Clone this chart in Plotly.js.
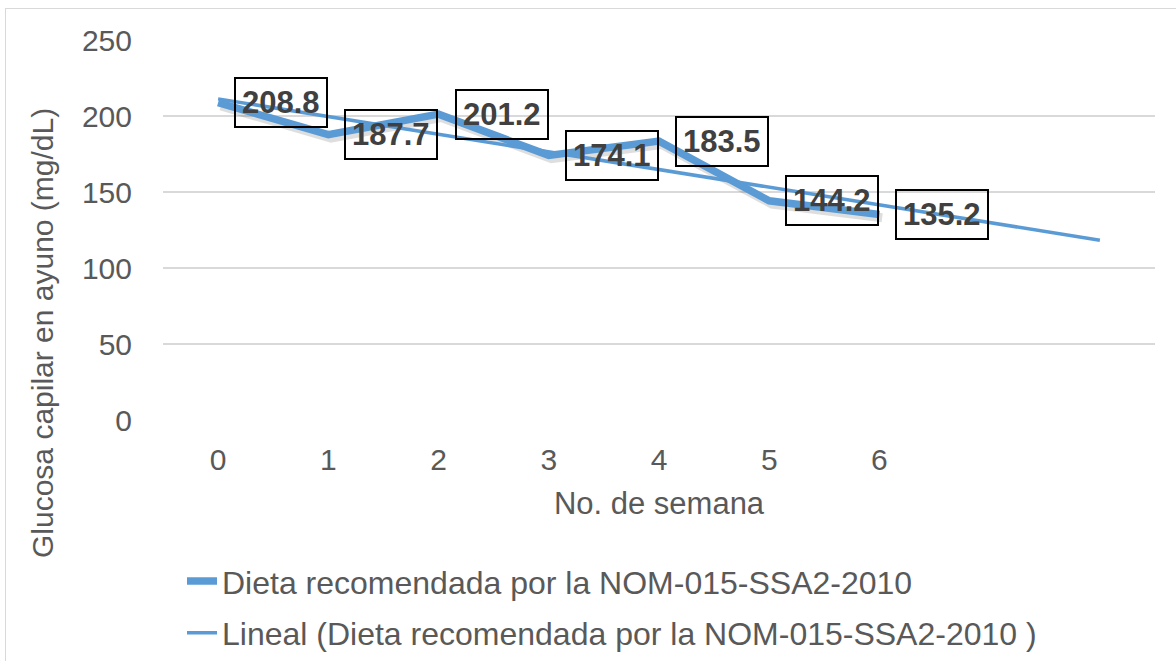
<!DOCTYPE html>
<html>
<head>
<meta charset="utf-8">
<script src="https://cdn.plot.ly/plotly-3.0.1.min.js"></script>
<style>
  html, body { margin: 0; padding: 0; background: #fff; }
  #wrap { position: relative; width: 1176px; height: 661px; overflow: hidden; }
  #chart { position: absolute; left: 0; top: 0; width: 1176px; height: 661px; }
  #frame { position: absolute; left: 5px; top: 8px; width: 1200px; height: 700px;
           border-top: 1px solid #d9d9d9; border-left: 1px solid #d9d9d9; pointer-events: none; }
</style>
</head>
<body>
<div id="wrap"><div id="chart"></div><div id="frame"></div></div>
<script>
// Data
const weeks = [0, 1, 2, 3, 4, 5, 6];
const glucose = [208.8, 187.7, 201.2, 174.1, 183.5, 144.2, 135.2];
const weekTickLabels = ["0", "1", "2", "3", "4", "5", "6"];
const yTickValues = [0, 50, 100, 150, 200, 250];
const seriesName = "Dieta recomendada por la NOM-015-SSA2-2010";
const trendName = "Lineal (Dieta recomendada por la NOM-015-SSA2-2010 )";
const trendForwardPeriods = 2;

// Linear least-squares trendline (as in the original chart's trendline)
const n = weeks.length;
const mx = weeks.reduce((a, b) => a + b, 0) / n;
const my = glucose.reduce((a, b) => a + b, 0) / n;
let sxy = 0, sxx = 0;
for (let i = 0; i < n; i++) { sxy += (weeks[i] - mx) * (glucose[i] - my); sxx += (weeks[i] - mx) ** 2; }
const slope = sxy / sxx;
const intercept = my - slope * mx;
const trendX = [weeks[0], weeks[n - 1] + trendForwardPeriods];
const trendY = trendX.map(x => intercept + slope * x);

const blue = "#5B9BD5";
const fontFam = "'Liberation Sans', Arial, sans-serif";

const traces = [
  // soft drop shadow of the main series
  { x: weeks.map(v => v + 0.025), y: glucose.map(v => v - 2.2), type: "scatter", mode: "lines",
    line: { color: "rgba(0,0,0,0.13)", width: 9 }, showlegend: false, hoverinfo: "skip" },
  { x: weeks, y: glucose, type: "scatter", mode: "lines", name: seriesName,
    line: { color: blue, width: 7.5 }, legendgroup: "a", hoverinfo: "x+y" },
  { x: trendX, y: trendY, type: "scatter", mode: "lines", name: trendName,
    line: { color: blue, width: 3.5 }, legendgroup: "b", hoverinfo: "skip" }
];

const annotations = weeks.map((w, i) => ({
  x: w, y: glucose[i], xref: "x", yref: "y",
  text: "<b>" + glucose[i].toFixed(1) + "</b>",
  showarrow: false, xanchor: "left", yanchor: "middle", xshift: 16,
  font: { family: fontFam, size: 31, color: "#404040" },
  bordercolor: "#000000", borderwidth: 2, borderpad: 6, bgcolor: "rgba(0,0,0,0)"
}));

const M = { l: 163, r: 21, t: 40, b: 241 };
const pw = 1176 - M.l - M.r, ph = 661 - M.t - M.b;

annotations.push({
  x: (42 - M.l) / pw, y: (661 - M.b - 333) / ph, xref: "paper", yref: "paper",
  xanchor: "center", yanchor: "middle",
  text: "Glucosa capilar en ayuno (mg/dL)", textangle: -90, showarrow: false,
  font: { family: fontFam, size: 30, color: "#595959" }
});

const layout = {
  width: 1176, height: 661,
  paper_bgcolor: "#ffffff", plot_bgcolor: "#ffffff",
  margin: { l: M.l, r: M.r, t: M.t, b: M.b, autoexpand: false },
  font: { family: fontFam, color: "#595959", size: 30 },
  showlegend: true,
  xaxis: {
    range: [-0.5, 8.5], tickvals: weeks, ticktext: weekTickLabels,
    showgrid: false, zeroline: false, showline: false,
    ticks: "outside", ticklen: 13, tickcolor: "rgba(0,0,0,0)",
    tickfont: { size: 30, color: "#595959" },
    title: { text: "No. de semana", font: { size: 31, color: "#595959" }, standoff: 17 },
    automargin: false, fixedrange: true
  },
  yaxis: {
    range: [0, 250], tickvals: yTickValues,
    showgrid: true, gridcolor: "#d9d9d9", gridwidth: 1.5,
    zeroline: false, showline: false,
    ticks: "outside", ticklen: 24, tickcolor: "rgba(0,0,0,0)",
    tickfont: { size: 30, color: "#595959" },
    automargin: false, fixedrange: true
  },
  legend: {
    orientation: "v", x: (182 - M.l) / pw, y: -0.352, xanchor: "left", yanchor: "top",
    traceorder: "grouped", tracegroupgap: 7,
    font: { size: 32, color: "#595959" },
    bgcolor: "rgba(0,0,0,0)"
  },
  annotations: annotations
};

Plotly.newPlot("chart", traces, layout, { displayModeBar: false, staticPlot: true });
</script>
</body>
</html>
